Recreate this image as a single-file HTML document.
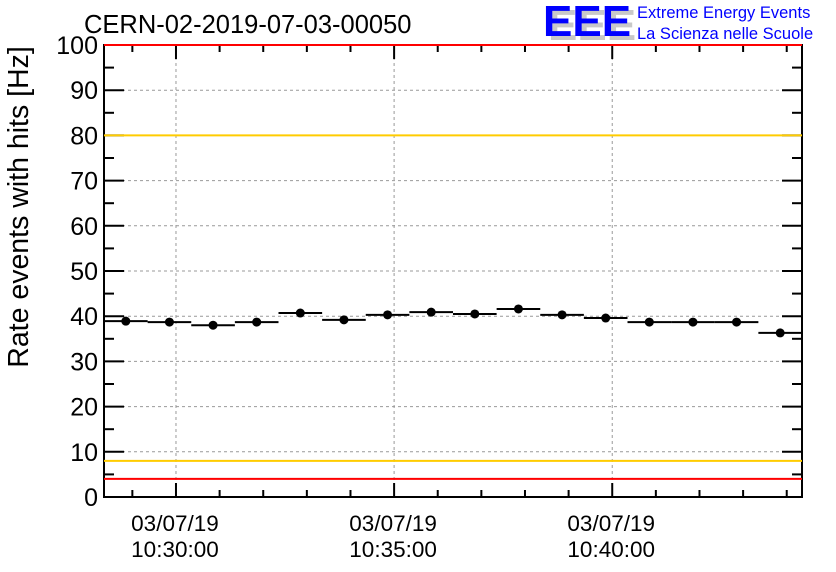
<!DOCTYPE html>
<html><head><meta charset="utf-8"><style>body{margin:0;background:#fff}svg{display:block;font-family:"Liberation Sans",sans-serif}</style></head>
<body>
<svg id="c" width="836" height="572">
<text x="84" y="33" font-size="25.5">CERN-02-2019-07-03-00050</text>
<g>
<text x="548" y="40" font-size="44" font-weight="bold" fill="#c8c8c8">EEE</text>
<text x="543" y="36" font-size="44" font-weight="bold" fill="#0000ff">EEE</text>
<text x="637" y="18" font-size="16.5" fill="#0000ff">Extreme Energy Events</text>
<text x="637" y="39" font-size="16.5" fill="#0000ff">La Scienza nelle Scuole</text>
</g>
<text transform="translate(28,207) rotate(-90)" text-anchor="middle" font-size="28.5">Rate events with hits [Hz]</text>
<g id="grid"></g><g id="axes"></g><g id="lines"></g><g id="marks"></g>
</svg>
<script>
const values=[38.9,38.7,38.0,38.7,40.7,39.2,40.3,40.9,40.5,41.6,40.3,39.6,38.7,38.7,38.7,36.3];
const yTicks=[0,10,20,30,40,50,60,70,80,90,100];
const xLabelMinutes=[30,35,40];
const xLabelDate="03/07/19";
const thresholds=[{v:100,c:"#ff0000"},{v:80,c:"#ffcc00"},{v:8,c:"#ffcc00"},{v:4,c:"#ff0000"}];
const startMinute=28.35, nBins=16;
const X0=104,X1=802,Y0=497,Y1=45,NS="http://www.w3.org/2000/svg";
const xs=m=>X0+(m-startMinute)*(X1-X0)/nBins;
const ys=v=>Y0-v*(Y0-Y1)/100;
function mk(p,t,a){const e=document.createElementNS(NS,t);for(const k in a)e.setAttribute(k,a[k]);document.getElementById(p).appendChild(e);return e;}
const pad=n=>String(n).padStart(2,"0");
for(const t of yTicks){if(t===0||t===100)continue;const e=mk("grid","line",{x1:X0,x2:X1,y1:ys(t),y2:ys(t),stroke:"#999","stroke-dasharray":"3,3"});

}
for(const m of xLabelMinutes){const e=mk("grid","line",{x1:xs(m),x2:xs(m),y1:Y1,y2:Y0,stroke:"#999","stroke-dasharray":"3,3"});

}
const fr=mk("axes","rect",{x:X0,y:Y1,width:X1-X0,height:Y0-Y1,fill:"none",stroke:"#000","stroke-width":2});


for(let v=0;v<=100;v+=5){const L=v%10===0?20:10;
mk("axes","line",{x1:X0,x2:X0+L,y1:ys(v),y2:ys(v),stroke:"#000","stroke-width":2});
mk("axes","line",{x1:X1,x2:X1-L,y1:ys(v),y2:ys(v),stroke:"#000","stroke-width":2});}
for(const t of yTicks){const e=mk("axes","text",{x:X0-6,y:ys(t)+9,"text-anchor":"end","font-size":25});e.textContent=t;

}
for(let m=Math.ceil(startMinute);m<=startMinute+nBins;m++){const L=m%5===0?14:7;
mk("axes","line",{x1:xs(m),x2:xs(m),y1:Y0,y2:Y0-L,stroke:"#000","stroke-width":2});
mk("axes","line",{x1:xs(m),x2:xs(m),y1:Y1,y2:Y1+L,stroke:"#000","stroke-width":2});}
for(const m of xLabelMinutes){
const a=mk("axes","text",{x:xs(m)-1,y:531,"text-anchor":"middle","font-size":22.5});a.textContent=xLabelDate;


const b=mk("axes","text",{x:xs(m)-1,y:557,"text-anchor":"middle","font-size":22.5});b.textContent="10:"+pad(m)+":00";

}
for(const th of thresholds){const e=mk("lines","line",{x1:X0,x2:X1,y1:ys(th.v),y2:ys(th.v),stroke:th.c,"stroke-width":2});

}
values.forEach((v,i)=>{
const l=mk("marks","line",{x1:xs(startMinute+i),x2:xs(startMinute+i+1),y1:ys(v),y2:ys(v),stroke:"#000","stroke-width":2});


const c=mk("marks","circle",{cx:xs(startMinute+i+0.5),cy:ys(v),r:4.5,fill:"#000"});

});
</script>
</body></html>
